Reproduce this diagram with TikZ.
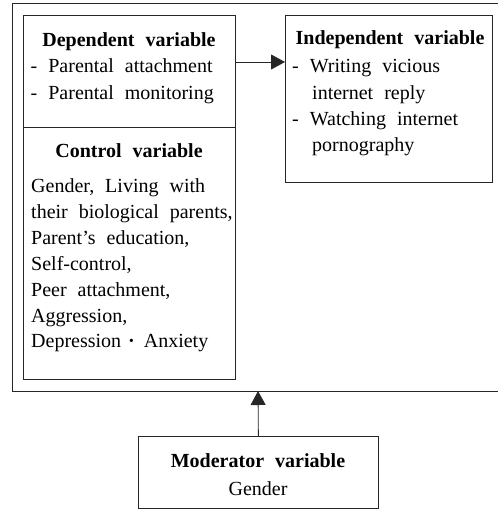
\documentclass[tikz,border=0pt]{standalone}
\usepackage{fontspec}
\setmainfont{Liberation Serif}[WordSpace=2.2]
\usetikzlibrary{arrows.meta}
\begin{document}
\begin{tikzpicture}[x=1pt,y=-1pt,
  boxline/.style={draw=black!85,line width=0.8pt},
  box/.style={boxline,rectangle,inner sep=0pt,anchor=north west},
  txt/.style={inner sep=0pt,font=\fontsize{20}{26}\selectfont},
  head/.style={txt,font=\fontsize{20}{26}\selectfont\bfseries,anchor=base},
  line/.style={txt,anchor=base west},
  cline/.style={txt,anchor=base},
  arr/.style={boxline,-{Triangle[length=14pt,width=15pt]}}]
\useasboundingbox (0,0) rectangle (497,510);
% outer frame (right side runs off the picture)
\draw[boxline] (499,3) -- (12,3) -- (12,391) -- (499,391);
\coordinate (outerbottom) at (258,391);
\coordinate (arrowy) at (0,62);
% boxes
\node[box,minimum width=212pt,minimum height=112pt] (dep) at (23,15) {};
\node[box,minimum width=212pt,minimum height=252pt] (ctrl) at (23,127) {};
\node[box,minimum width=207pt,minimum height=167pt] (indep) at (285,15) {};
\node[box,minimum width=240pt,minimum height=72pt] (mod) at (138,436) {};
% dependent
\node[head] (deph) at (129,47) {Dependent variable};
\node[line] (dep1) at (30.5,73) {- Parental attachment};
\node[line] (dep2) at (30.5,100) {- Parental monitoring};
% control
\node[head] (ctrlh) at (129,158) {Control variable};
\node[line] (c1) at (31,193) {Gender, Living with};
\node[line] (c2) at (31,218.8) {their biological parents,};
\node[line] (c3) at (31,244.6) {Parent’s education,};
\node[line] (c4) at (31,270.4) {Self-control,};
\node[line] (c5) at (31,296.2) {Peer attachment,};
\node[line] (c6) at (31,322) {Aggression,};
\node[line] (c7) at (31,347.8) {Depression\kern7pt{\bfseries ·}\kern9pt Anxiety};
% independent
\node[head] (indh) at (390,45) {Independent variable};
\node[line] (i1) at (292,73) {- Writing vicious};
\node[line] (i2) at (312,99.5) {internet reply};
\node[line] (i3) at (292,126) {- Watching internet};
\node[line] (i4) at (312,152) {pornography};
% moderator
\node[head] (modh) at (258,467) {Moderator variable};
\node[cline] (mod1) at (258,495) {Gender};
% connectors
\draw[arr] (dep.east |- arrowy) -- (indep.west |- arrowy);
\draw[arr] (mod.north) -- (outerbottom);
\end{tikzpicture}
\end{document}
